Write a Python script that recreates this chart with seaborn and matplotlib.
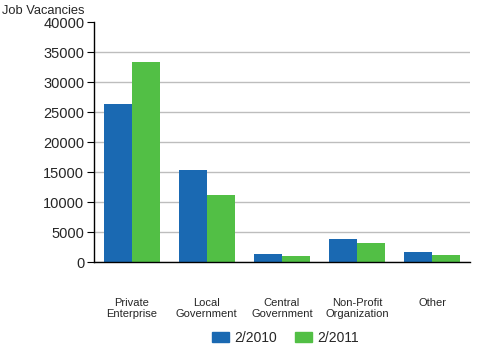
import pandas as pd
import matplotlib.pyplot as plt
import seaborn as sns

# Chart data
sectors = ['Private\nEnterprise', 'Local\nGovernment', 'Central\nGovernment',
           'Non-Profit\nOrganization', 'Other']
vac_2010 = [26300, 15300, 1350, 3850, 1650]
vac_2011 = [33400, 11200, 1000, 3150, 1150]
periods = ['2/2010', '2/2011']

df = pd.DataFrame({
    'sector': sectors * 2,
    'period': [periods[0]] * 5 + [periods[1]] * 5,
    'vacancies': vac_2010 + vac_2011,
})

sns.set_style('white')
plt.rcParams['font.family'] = ['Liberation Sans', 'DejaVu Sans']

fig = plt.figure(figsize=(5, 3.5), dpi=100)
ax = fig.add_axes([0.188, 0.251, 0.752, 0.686])

sns.barplot(data=df, x='sector', y='vacancies', hue='period',
            palette=['#1a69b2', '#52bf45'], width=0.745, saturation=1,
            edgecolor='none', linewidth=0, ax=ax, legend=False)

ax.set_ylim(0, 40000)
ax.set_yticks(range(0, 40001, 5000))
ax.set_xlim(-0.5, 4.5)
ax.yaxis.grid(True, color='#bdbdbd', linewidth=1)
ax.set_axisbelow(True)
ax.get_ygridlines()[-1].set_visible(False)

for s in ['top', 'right']:
    ax.spines[s].set_visible(False)
for s in ['left', 'bottom']:
    ax.spines[s].set_color('black')
    ax.spines[s].set_linewidth(1)

ax.tick_params(axis='y', left=True, length=5, color='black', labelsize=10.5, pad=2)
ax.tick_params(axis='x', bottom=False, labelsize=8, pad=22)
ax.set_xlabel('')
ax.set_ylabel('')
fig.text(0.005, 0.985, 'Job Vacancies', fontsize=9.3, va='top', ha='left')

handles = [plt.Rectangle((0, 0), 1, 1, color=c) for c in ['#1a69b2', '#52bf45']]
fig.legend(handles, periods, loc='center', bbox_to_anchor=(0.57, 0.035), ncol=2,
           frameon=False, fontsize=10, handlelength=1.25, handleheight=0.75,
           columnspacing=1.3, handletextpad=0.35)

fig.savefig('out.png', dpi=100)
plt.close(fig)
